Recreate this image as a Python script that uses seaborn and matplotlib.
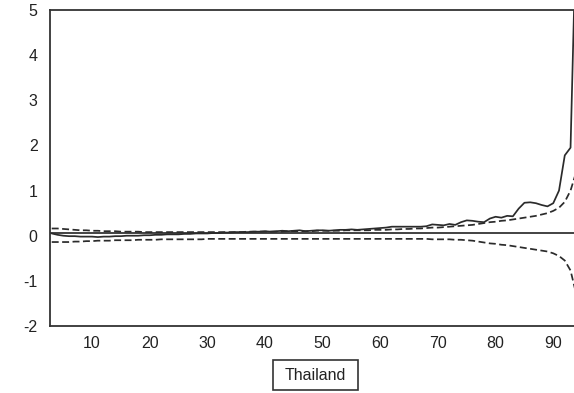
import matplotlib
matplotlib.use("Agg")
import matplotlib.pyplot as plt
import seaborn as sns
import pandas as pd
from matplotlib.patches import Rectangle

# Observation index
obs = list(range(3, 95))

# Recursive statistic (solid line)
stat = [0.05, 0.02, 0.00, -0.01, -0.01, -0.02, -0.02, -0.02, -0.03, -0.02,
        -0.02, -0.01, -0.01, 0.00, 0.00, 0.00, 0.01, 0.01, 0.02, 0.02,
        0.03, 0.03, 0.03, 0.04, 0.04, 0.05, 0.05, 0.05, 0.06, 0.06,
        0.07, 0.07, 0.08, 0.08, 0.08, 0.09, 0.09, 0.10, 0.09, 0.10,
        0.11, 0.10, 0.11, 0.12, 0.10, 0.11, 0.12, 0.12, 0.11, 0.12,
        0.13, 0.13, 0.14, 0.13, 0.14, 0.15, 0.16, 0.17, 0.18, 0.20,
        0.20, 0.20, 0.20, 0.20, 0.20, 0.21, 0.25, 0.24, 0.23, 0.26,
        0.24, 0.30, 0.34, 0.33, 0.31, 0.30, 0.38, 0.42, 0.40, 0.44,
        0.43, 0.60, 0.73, 0.74, 0.72, 0.68, 0.65, 0.72, 1.00, 1.78,
        1.95, 7.00]

# 5% significance bounds (dashed lines)
upper = [0.16, 0.16, 0.15, 0.14, 0.13, 0.12, 0.12, 0.11, 0.11, 0.10,
         0.10, 0.10, 0.09, 0.09, 0.09, 0.09, 0.08, 0.08, 0.08, 0.08,
         0.08, 0.08, 0.08, 0.08, 0.08, 0.08, 0.08, 0.08, 0.08, 0.08,
         0.08, 0.08, 0.08, 0.08, 0.09, 0.09, 0.09, 0.09, 0.09, 0.09,
         0.09, 0.10, 0.10, 0.10, 0.10, 0.10, 0.11, 0.11, 0.11, 0.11,
         0.11, 0.12, 0.12, 0.12, 0.12, 0.12, 0.13, 0.13, 0.13, 0.14,
         0.14, 0.15, 0.15, 0.16, 0.16, 0.17, 0.18, 0.18, 0.19, 0.20,
         0.21, 0.22, 0.23, 0.24, 0.26, 0.28, 0.30, 0.31, 0.33, 0.34,
         0.36, 0.38, 0.40, 0.42, 0.44, 0.47, 0.50, 0.55, 0.62, 0.75,
         1.00, 1.42]
lower = [-0.14, -0.14, -0.13, -0.13, -0.12, -0.12, -0.11, -0.11, -0.11, -0.10,
         -0.10, -0.10, -0.10, -0.09, -0.09, -0.09, -0.09, -0.08, -0.08, -0.08,
         -0.08, -0.08, -0.08, -0.08, -0.08, -0.07, -0.07, -0.07, -0.07, -0.07,
         -0.07, -0.07, -0.07, -0.07, -0.07, -0.07, -0.07, -0.07, -0.07, -0.07,
         -0.07, -0.07, -0.07, -0.07, -0.07, -0.07, -0.07, -0.07, -0.07, -0.07,
         -0.07, -0.07, -0.07, -0.07, -0.07, -0.07, -0.07, -0.07, -0.07, -0.07,
         -0.07, -0.07, -0.07, -0.07, -0.08, -0.08, -0.08, -0.08, -0.09, -0.09,
         -0.10, -0.11, -0.13, -0.15, -0.17, -0.18, -0.20, -0.21, -0.23, -0.25,
         -0.27, -0.29, -0.31, -0.33, -0.35, -0.39, -0.45, -0.55, -0.77, -1.30]
lower = [-0.14, -0.14] + lower

baseline = 0.05

x_ticks = [10, 20, 30, 40, 50, 60, 70, 80, 90]
y_ticks = [-2, -1, 0, 1, 2, 3, 4, 5]
series_label = "Thailand"

sns.set_style("white")
plt.rcParams["font.family"] = ["Liberation Sans", "DejaVu Sans"]
plt.rcParams["axes.unicode_minus"] = False

df = pd.DataFrame({"obs": obs, "stat": stat, "upper": upper, "lower": lower})

W, H = 574, 393
fig = plt.figure(figsize=(W / 100, H / 100), dpi=100)
ax = fig.add_axes([50 / W, 1 - 326 / H, 1 - 50 / W, 316 / H])

line_color = "#2b2b2b"
sns.lineplot(data=df, x="obs", y="stat", ax=ax, color=line_color, lw=1.25)
sns.lineplot(data=df, x="obs", y="upper", ax=ax, color=line_color, lw=1.25,
             linestyle=(0, (4, 2)))
sns.lineplot(data=df, x="obs", y="lower", ax=ax, color=line_color, lw=1.25,
             linestyle=(0, (4, 2)))
ax.axhline(baseline, color=line_color, lw=1.25)

ax.set_xlim(2.7, 93.6)
ax.set_ylim(-2, 5)
ax.set_xticks(x_ticks)
ax.set_yticks(y_ticks)
ax.set_xlabel("")
ax.set_ylabel("")

for side in ["left", "top", "bottom"]:
    ax.spines[side].set_color("#333333")
    ax.spines[side].set_linewidth(1.3)
ax.spines["right"].set_visible(False)

ax.tick_params(axis="both", direction="out", length=5, width=1.1,
               color="#333333", labelsize=11.5, labelcolor="#222222", pad=2)
ax.tick_params(axis="y", pad=4)

# Series name box under the axis
box_l, box_r, box_t, box_b = 273, 358, 360, 390
fig.patches.append(Rectangle((box_l / W, 1 - box_b / H), (box_r - box_l) / W,
                             (box_b - box_t) / H, transform=fig.transFigure,
                             fill=False, ec="#333333", lw=1.2))
fig.text((box_l + box_r) / 2 / W, 1 - (box_t + box_b) / 2 / H, series_label,
         ha="center", va="center", fontsize=11.5, color="#222222")

fig.savefig("out.png", dpi=100)
